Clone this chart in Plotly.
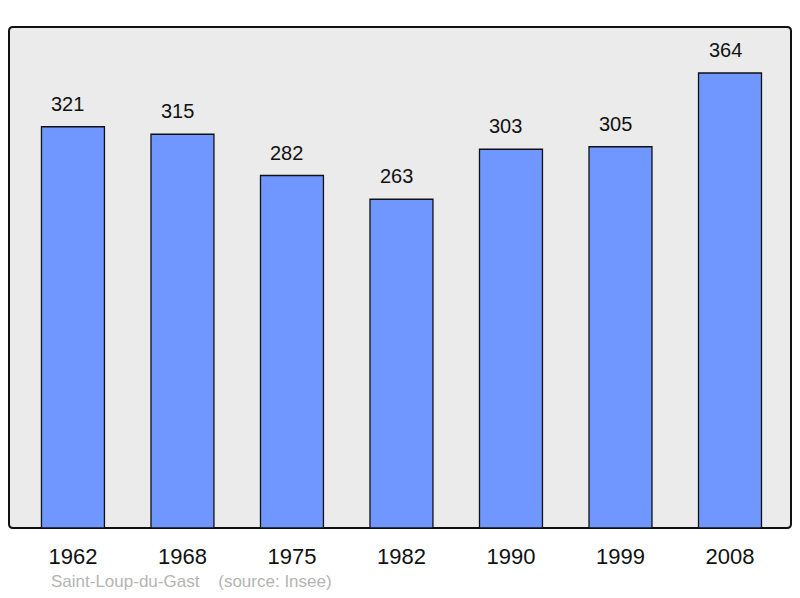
import plotly.graph_objects as go

years = ["1962", "1968", "1975", "1982", "1990", "1999", "2008"]
population = [321, 315, 282, 263, 303, 305, 364]
commune = "Saint-Loup-du-Gast"
source = "(source: Insee)"

# page body has an 8px margin; keep the figure inside the 800x598 window
OFF = 8
W, H = 800 - 2 * OFF, 598 - 2 * OFF
L, T = 9 - OFF, 27 - OFF
R = W - (791 - OFF)
B = H - (528 - OFF)
pw, ph = W - L - R, H - T - B

fig = go.Figure()
fig.add_trace(go.Bar(
    x=list(range(len(years))), y=population, width=0.575,
    marker=dict(color="#7096ff", line=dict(color="#111111", width=1.3)),
    hoverinfo="skip",
))

for i, v in enumerate(population):
    fig.add_annotation(x=i, y=v, text=str(v), showarrow=False,
                       yanchor="bottom", yshift=10, xshift=-5,
                       font=dict(family="Liberation Sans, Arial", size=20, color="#111111"))

# rounded frame
rx, ry = 4 / pw, 4 / ph
path = (f"M {rx},0 L {1-rx},0 Q 1,0 1,{ry} L 1,{1-ry} Q 1,1 {1-rx},1 "
        f"L {rx},1 Q 0,1 0,{1-ry} L 0,{ry} Q 0,0 {rx},0 Z")
fig.add_shape(type="path", path=path, xref="paper", yref="paper",
              line=dict(color="#111111", width=2), fillcolor="#ebebeb", layer="below")

fig.add_annotation(x=(49 - 9) / pw, y=(528 - 581) / ph, xref="paper", yref="paper",
                   text=f"{commune}&nbsp;&nbsp;&nbsp;&nbsp;{source}",
                   showarrow=False, xanchor="left", yanchor="middle",
                   font=dict(family="Liberation Sans, Arial", size=17, color="#b4b4b4"))

fig.update_layout(
    width=W, height=H, margin=dict(l=L, r=R, t=T, b=B),
    paper_bgcolor="white", plot_bgcolor="rgba(0,0,0,0)",
    showlegend=False,
    xaxis=dict(range=[-0.584, 6.557], tickmode="array", tickvals=list(range(len(years))),
               ticktext=years, showgrid=False, zeroline=False, showline=False,
               ticks="outside", ticklen=9, tickcolor="rgba(0,0,0,0)",
               tickfont=dict(family="Liberation Sans, Arial", size=22, color="#111111")),
    yaxis=dict(range=[0, 400.8], showgrid=False, zeroline=False, showline=False,
               showticklabels=False, ticks=""),
)

fig.write_html("out.html")
